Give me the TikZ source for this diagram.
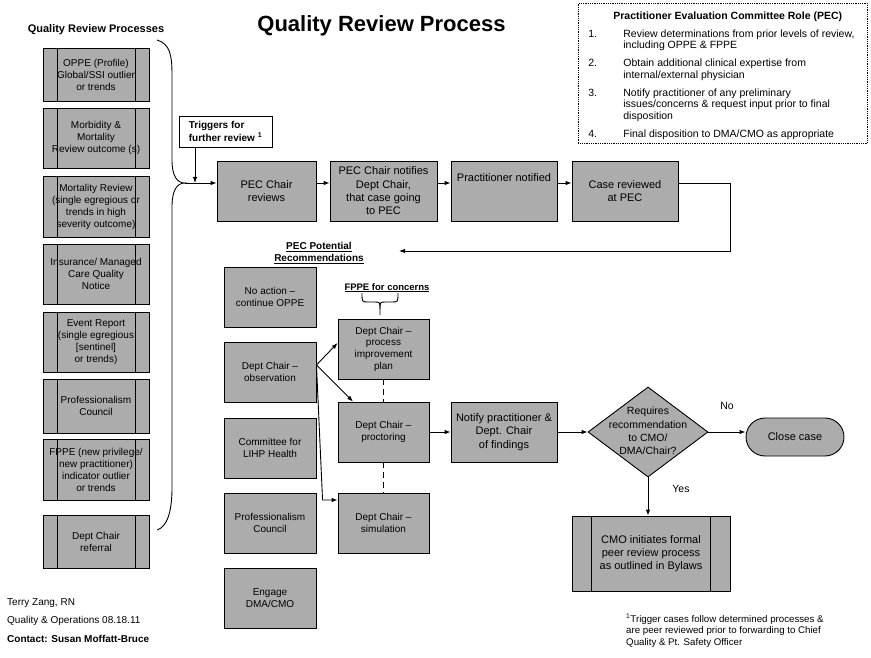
\documentclass[tikz,border=0pt]{standalone}
\usepackage{fontspec}
\setmainfont{Liberation Sans}
\usepackage{tikz}
\usetikzlibrary{arrows.meta,shapes.geometric}
\definecolor{boxgray}{RGB}{172,172,172}
\newcommand{\fsz}[2]{\fontsize{#1}{#2}\selectfont}

\tikzset{
  box/.style={rectangle, draw=black, fill=boxgray, line width=0.9pt, inner sep=0pt, align=center},
  procbox/.style={box, path picture={
    \draw[line width=0.9pt] ([xshift=#1]path picture bounding box.south west) -- ([xshift=#1]path picture bounding box.north west)
      ([xshift=-#1]path picture bounding box.south east) -- ([xshift=-#1]path picture bounding box.north east);}},
  procbox/.default=14pt,
  lbox/.style={procbox, minimum width=106pt, font=\fsz{10}{12}},
  rowbox/.style={box, minimum height=60pt, font=\fsz{11}{13.3}},
  recbox/.style={box, minimum height=60pt, font=\fsz{10}{11.7}},
  arr/.style={-{Latex[length=6pt,width=4.5pt]}, line width=0.9pt},
  dashline/.style={line width=1.8pt, dash pattern=on 6pt off 4pt},
  lbl/.style={inner sep=0pt}
}

\begin{document}
\begin{tikzpicture}[x=1pt,y=-1pt]
\useasboundingbox (0,0) rectangle (871,658);

% titles
\node[lbl, font=\bfseries\fsz{22}{26}, anchor=base] (title) at (381.5,32) {Quality Review Process};
\node[lbl, font=\bfseries\fsz{11}{13}, anchor=base] (qrp) at (96,33) {Quality Review Processes};

% review processes
\node[lbox, minimum height=53pt] (oppe) at (96,74.5) {OPPE (Profile)\\Global/SSI outlier\\or trends};
\node[lbox, minimum height=60pt] (mm) at (96,138) {Morbidity \&\\Mortality\\Review outcome (s)};
\node[lbox, minimum height=61pt] (mort) at (96,206.5) {Mortality Review\\(single egregious or\\trends in high\\severity outcome)};
\node[lbox, minimum height=60pt] (ins) at (96,274) {Insurance/ Managed\\Care Quality\\Notice};
\node[lbox, minimum height=60pt] (event) at (96,342) {Event Report\\(single egregious\\{[sentinel]}\\or trends)};
\node[lbox, minimum height=54pt] (profc) at (96,406) {Professionalism\\Council};
\node[lbox, minimum height=61pt] (fppe) at (96,469.5) {FPPE (new privilege/\\new practitioner)\\indicator outlier\\or trends};
\node[lbox, minimum height=53pt] (refer) at (96,541.5) {Dept Chair\\referral};

% brace
\coordinate (brtip) at (185,183);
\draw[line width=0.9pt] (157,40) .. controls (170,44) and (172,55) .. (172,75) -- (172,160)
  .. controls (172,176) and (177,183) .. (brtip) .. controls (177,183) and (172,190) .. (172,207)
  -- (172,488) .. controls (172,512) and (167,527) .. (157,530);

% triggers
\node[draw, fill=white, line width=0.9pt, minimum width=93pt, minimum height=31pt, inner sep=0pt, align=left, font=\bfseries\fsz{10}{12.5}] (trig) at (225.5,131.5) {Triggers for\\further review \textsuperscript{1}};

% PEC row
\node[rowbox, minimum width=99pt] (pecrev) at (266.5,191) {PEC Chair\\reviews};
\node[rowbox, minimum width=107pt] (pecnot) at (383.5,191) {PEC Chair notifies\\Dept Chair,\\that case going\\to PEC};
\node[rowbox, minimum width=106pt, minimum height=0pt, text height=21pt, text depth=39pt] (practnot) at (504,191) {Practitioner notified};
\node[rowbox, minimum width=106pt] (casepec) at (625,191) {Case reviewed\\at PEC};

% PEC role
\node[draw, densely dotted, line width=0.8pt, inner sep=0pt, minimum width=289pt, minimum height=140pt, anchor=north west, font=\fsz{10.5}{11.5}] (pecrole) at (578,3) {\begin{tabular}{@{\hspace{10pt}}p{35pt}@{}p{244pt}@{}}
\multicolumn{2}{@{\hspace{35pt}}l@{}}{\rule{0pt}{13pt}\bfseries Practitioner Evaluation Committee Role (PEC)}\\[6.5pt]
1. & Review determinations from prior levels of review,\newline including OPPE \& FPPE\\[6.5pt]
2. & Obtain additional clinical expertise from\newline internal/external physician\\[6.5pt]
3. & Notify practitioner of any preliminary\newline issues/concerns \& request input prior to final\newline disposition\\[6.5pt]
4. & Final disposition to DMA/CMO as appropriate
\end{tabular}};

% recommendations
\coordinate (recin) at (399,251);
\node[lbl, font=\bfseries\fsz{10}{12}, align=center] (pecpot) at (319,253) {\underline{PEC Potential}\\\underline{Recommendations}};
\node[recbox, minimum width=92pt] (noact) at (270,297) {No action –\\continue OPPE};
\node[recbox, minimum width=92pt] (obs) at (270,372) {Dept Chair –\\observation};
\node[recbox, minimum width=92pt] (lihp) at (270,448) {Committee for\\LIHP Health};
\node[recbox, minimum width=92pt] (profrec) at (270,523) {Professionalism\\Council};
\node[recbox, minimum width=92pt] (engage) at (270,598) {Engage\\DMA/CMO};

\node[lbl, font=\bfseries\fsz{9.5}{12}, anchor=base] (fppecon) at (387,290) {\underline{FPPE for concerns}};
\draw[line width=0.9pt] (362,293) .. controls (362,302) .. (368,302) -- (374,302) .. controls (380,302) .. (380,309) -- (380,315);
\draw[line width=0.9pt] (398,293) .. controls (398,302) .. (392,302) -- (386,302) .. controls (380,302) .. (380,309);

\node[recbox, minimum width=91pt] (procimp) at (383.5,349) {Dept Chair –\\process\\improvement\\plan};
\node[recbox, minimum width=91pt] (proct) at (383.5,432) {Dept Chair –\\proctoring};
\node[recbox, minimum width=91pt] (sim) at (383.5,523) {Dept Chair –\\simulation};

\node[rowbox, minimum width=106pt, font=\fsz{11}{13.5}] (notify) at (504,432) {Notify practitioner \&\\Dept. Chair\\of findings};
\node[diamond, draw, fill=boxgray, line width=0.9pt, inner sep=0pt, minimum width=120pt, minimum height=90pt, font=\fsz{10.5}{13.3}] (decide) at (648,432) {\makebox[0pt]{\begin{tabular}{@{}c@{}}Requires\\recommendation\\to CMO/\\DMA/Chair?\end{tabular}}};
\node[rectangle, rounded corners=19pt, draw, fill=boxgray, line width=0.9pt, minimum width=98pt, minimum height=38pt, font=\fsz{11}{13.3}] (close) at (795,437) {Close case};
\node[procbox=19.5pt, minimum width=158pt, minimum height=75pt, font=\fsz{11}{13.3}] (cmo) at (651,553.5) {CMO initiates formal\\peer review process\\as outlined in Bylaws};
\node[lbl, font=\fsz{10.5}{12}] (no) at (727,406) {No};
\node[lbl, font=\fsz{10.5}{12}] (yes) at (681,489) {Yes};

% notes
\node[lbl, font=\fsz{9.7}{11.3}, align=left, anchor=north west] (fnote) at (626,614) {\textsuperscript{1}Trigger cases follow determined processes \&\\are peer reviewed prior to forwarding to Chief\\Quality \& Pt. Safety Officer};
\node[lbl, font=\fsz{10}{12}, anchor=base west] (author) at (7,605) {Terry Zang, RN};
\node[lbl, font=\fsz{10}{12}, anchor=base west] (unit) at (7,623) {Quality \& Operations 08.18.11};
\node[lbl, font=\bfseries\fsz{10}{12}, anchor=base west] (contact) at (7,642) {Contact: Susan Moffatt-Bruce};

% connectors
\draw[arr] (brtip) -- ([yshift=8pt]pecrev.west);
\draw[arr] ([xshift=-30.5pt]trig.south) -- ([xshift=-30.5pt]trig.south |- brtip);
\draw[arr] ([yshift=8pt]pecrev.east) -- ([yshift=8pt]pecnot.west);
\draw[arr] ([yshift=8pt]pecnot.east) -- ([yshift=8pt]practnot.west);
\draw[arr] ([yshift=8pt]practnot.east) -- ([yshift=8pt]casepec.west);
\draw[arr] ([yshift=8pt]casepec.east) -- ++(52,0) |- (recin);

\draw[arr] ([yshift=7pt]obs.east) -- ([yshift=6pt]procimp.west);
\draw[arr] ([yshift=7pt]obs.east) -- ([xshift=-30.5pt]proct.north);
\draw[arr] ([yshift=7pt]obs.east) -- ([xshift=-15pt,yshift=23pt]sim.west) -- ([yshift=23pt]sim.west);
\draw[dashline] (procimp.south) -- (proct.north);
\draw[dashline] (proct.south) -- (sim.north);
\draw[arr] (proct.east) -- (notify.west);
\draw[arr] (notify.east) -- (decide.west);
\draw[arr] (decide.east) -- (decide.east -| close.west);
\draw[arr] (decide.south) -- (decide.south |- cmo.north);
\end{tikzpicture}
\end{document}
